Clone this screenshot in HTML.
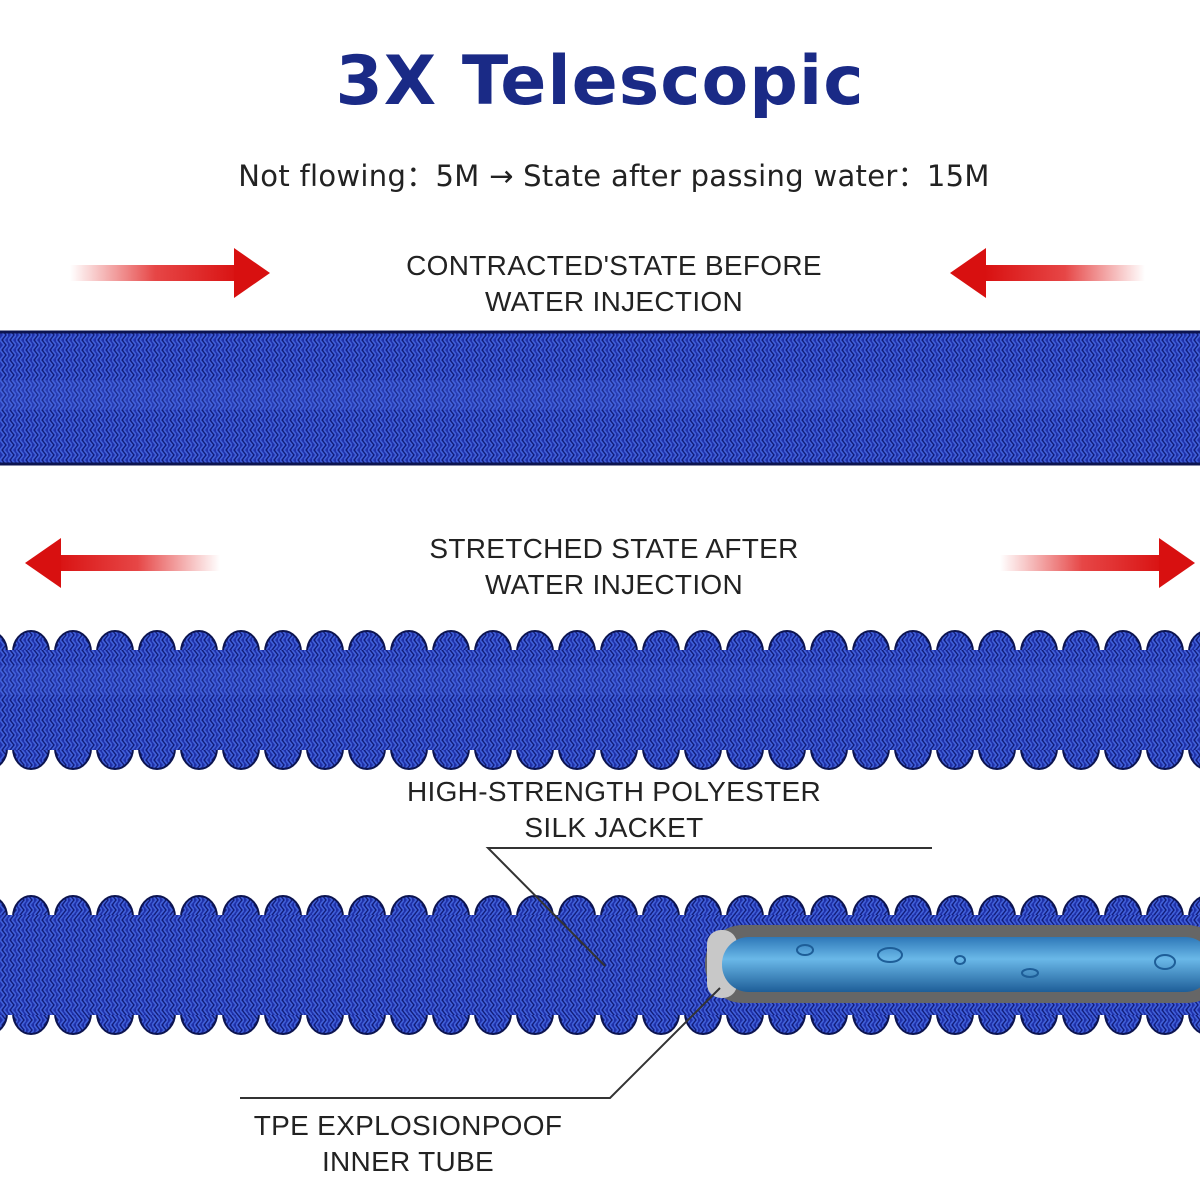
<!DOCTYPE html>
<html><head><meta charset="utf-8"><style>
html,body{margin:0;padding:0;background:#fff;width:1200px;height:1200px;overflow:hidden}
</style></head><body>
<svg width="1200" height="1200" viewBox="0 0 1200 1200" xmlns="http://www.w3.org/2000/svg">
<defs>
<linearGradient id="ar" x1="0" x2="1"><stop offset="0" stop-color="#e02020" stop-opacity="0"/><stop offset="0.5" stop-color="#e01818" stop-opacity="0.8"/><stop offset="1" stop-color="#d81010"/></linearGradient>
<linearGradient id="al" x1="1" x2="0"><stop offset="0" stop-color="#e02020" stop-opacity="0"/><stop offset="0.5" stop-color="#e01818" stop-opacity="0.8"/><stop offset="1" stop-color="#d81010"/></linearGradient>
<pattern id="weave" width="8" height="10" patternUnits="userSpaceOnUse">
<rect width="8" height="10" fill="#1f30a8"/>
<path d="M0 0 L4 5 L0 10 M4 0 L8 5 L4 10" stroke="#4060d8" stroke-width="1.6" fill="none"/>
<path d="M2 0 L6 5 L2 10" stroke="#101a70" stroke-width="1" fill="none"/>
</pattern>
<pattern id="bA" width="42" height="40" patternUnits="userSpaceOnUse" x="10" y="630">
<ellipse cx="21" cy="22" rx="18" ry="21" fill="url(#weave)" stroke="#0c1450" stroke-width="2"/>
</pattern>
<pattern id="bB" width="42" height="40" patternUnits="userSpaceOnUse" x="10" y="730">
<ellipse cx="21" cy="18" rx="18" ry="21" fill="url(#weave)" stroke="#0c1450" stroke-width="2"/>
</pattern>
<pattern id="bC" width="42" height="40" patternUnits="userSpaceOnUse" x="10" y="895">
<ellipse cx="21" cy="22" rx="18" ry="21" fill="url(#weave)" stroke="#0c1450" stroke-width="2"/>
</pattern>
<pattern id="bD" width="42" height="40" patternUnits="userSpaceOnUse" x="10" y="995">
<ellipse cx="21" cy="18" rx="18" ry="21" fill="url(#weave)" stroke="#0c1450" stroke-width="2"/>
</pattern>
<linearGradient id="tube" x1="0" y1="0" x2="0" y2="1"><stop offset="0" stop-color="#2e78b8"/><stop offset="0.4" stop-color="#6ab8e8"/><stop offset="1" stop-color="#1e5e98"/></linearGradient>
</defs>

<text x="600" y="104" text-anchor="middle" font-family="DejaVu Sans, sans-serif" font-weight="bold" font-size="68" fill="#1a2a86" letter-spacing="1">3X Telescopic</text>
<text x="614" y="186" text-anchor="middle" font-family="DejaVu Sans, sans-serif" font-size="29" fill="#222" letter-spacing="0.3">Not flowing：5M → State after passing water：15M</text>

<rect x="70" y="265" width="170" height="16" fill="url(#ar)"/>
<polygon points="234,248 270,273 234,298" fill="#d81010"/>
<rect x="985" y="265" width="160" height="16" fill="url(#al)"/>
<polygon points="986,248 950,273 986,298" fill="#d81010"/>
<g font-family="Liberation Sans, sans-serif" font-size="28" fill="#222" text-anchor="middle" letter-spacing="0.3">
<text x="614" y="275">CONTRACTED'STATE BEFORE</text>
<text x="614" y="311">WATER INJECTION</text>
<text x="614" y="558">STRETCHED STATE AFTER</text>
<text x="614" y="594">WATER INJECTION</text>
<text x="614" y="801">HIGH-STRENGTH POLYESTER</text>
<text x="614" y="837">SILK JACKET</text>
<text x="408" y="1135">TPE EXPLOSIONPOOF</text>
<text x="408" y="1171">INNER TUBE</text>
</g>

<rect x="0" y="332" width="1200" height="132" fill="url(#weave)"/>
<rect x="-2" y="332" width="1204" height="132" fill="none" stroke="#0c1450" stroke-width="3"/>
<rect x="0" y="380" width="1200" height="30" fill="#5070e8" opacity="0.2"/>

<rect x="55" y="555" width="165" height="16" fill="url(#al)"/>
<polygon points="61,538 25,563 61,588" fill="#d81010"/>
<rect x="1000" y="555" width="165" height="16" fill="url(#ar)"/>
<polygon points="1159,538 1195,563 1159,588" fill="#d81010"/>

<rect x="0" y="630" width="1200" height="40" fill="url(#bA)"/>
<rect x="0" y="730" width="1200" height="40" fill="url(#bB)"/>
<rect x="0" y="650" width="1200" height="100" fill="url(#weave)"/>
<rect x="0" y="665" width="1200" height="30" fill="#5070e8" opacity="0.15"/>

<rect x="0" y="895" width="1200" height="40" fill="url(#bC)"/>
<rect x="0" y="995" width="1200" height="40" fill="url(#bD)"/>
<rect x="0" y="915" width="1200" height="100" fill="url(#weave)"/>
<rect x="705" y="925" width="520" height="78" rx="38" fill="#666"/>
<rect x="707" y="930" width="30" height="68" rx="14" fill="#c8c8c8"/>
<rect x="722" y="937" width="490" height="55" rx="27" fill="url(#tube)"/>
<g fill="none" stroke="#1e5e98" stroke-width="2">
<ellipse cx="805" cy="950" rx="8" ry="5"/><ellipse cx="890" cy="955" rx="12" ry="7"/>
<ellipse cx="960" cy="960" rx="5" ry="4"/><ellipse cx="1165" cy="962" rx="10" ry="7"/>
<ellipse cx="1030" cy="973" rx="8" ry="4"/>
</g>

<g stroke="#333" stroke-width="2" fill="none">
<polyline points="932,848 488,848 605,966"/>
<polyline points="240,1098 610,1098 720,988"/>
</g>
</svg>
</body></html>
